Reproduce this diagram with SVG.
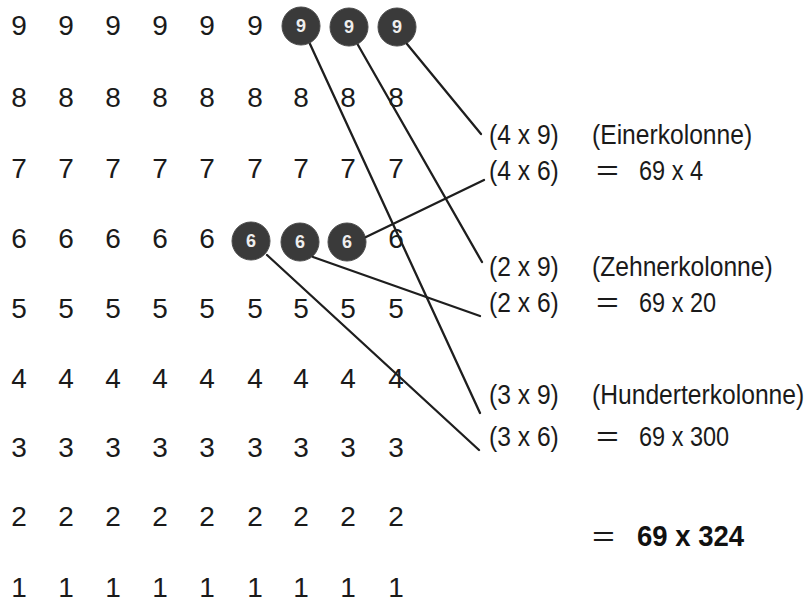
<svg xmlns="http://www.w3.org/2000/svg" width="812" height="604" viewBox="0 0 812 604">
<style>
.g{font-family:"Liberation Sans",Arial,sans-serif;font-size:28px;fill:#1a1a1a;text-anchor:middle}
.c{fill:#3a3a3a;stroke:#4a4a4a;stroke-width:1}
.cd{font-family:"Liberation Sans",Arial,sans-serif;font-size:18px;font-weight:bold;fill:#eee;text-anchor:middle}
.l{font-family:"Liberation Sans",Arial,sans-serif;font-size:28px;fill:#1a1a1a}
.b{font-family:"Liberation Sans",Arial,sans-serif;font-size:29px;font-weight:bold;fill:#111}
.ln{stroke:#1e1e1e;stroke-width:2.3;fill:none;stroke-linecap:round}
</style>
<rect width="812" height="604" fill="#fff"/>
<g id="grid">
<g id="row9"><text class="g" x="19" y="35">9</text><text class="g" x="66" y="35">9</text><text class="g" x="113" y="35">9</text><text class="g" x="160" y="35">9</text><text class="g" x="207" y="35">9</text><text class="g" x="255" y="35">9</text></g>
<g id="row8"><text class="g" x="19" y="107">8</text><text class="g" x="66" y="107">8</text><text class="g" x="113" y="107">8</text><text class="g" x="160" y="107">8</text><text class="g" x="207" y="107">8</text><text class="g" x="255" y="107">8</text><text class="g" x="301" y="107">8</text><text class="g" x="348" y="107">8</text><text class="g" x="396" y="107">8</text></g>
<g id="row7"><text class="g" x="19" y="178">7</text><text class="g" x="66" y="178">7</text><text class="g" x="113" y="178">7</text><text class="g" x="160" y="178">7</text><text class="g" x="207" y="178">7</text><text class="g" x="255" y="178">7</text><text class="g" x="301" y="178">7</text><text class="g" x="348" y="178">7</text><text class="g" x="396" y="178">7</text></g>
<g id="row6"><text class="g" x="19" y="248">6</text><text class="g" x="66" y="248">6</text><text class="g" x="113" y="248">6</text><text class="g" x="160" y="248">6</text><text class="g" x="207" y="248">6</text><text class="g" x="396" y="248">6</text></g>
<g id="row5"><text class="g" x="19" y="318">5</text><text class="g" x="66" y="318">5</text><text class="g" x="113" y="318">5</text><text class="g" x="160" y="318">5</text><text class="g" x="207" y="318">5</text><text class="g" x="255" y="318">5</text><text class="g" x="301" y="318">5</text><text class="g" x="348" y="318">5</text><text class="g" x="396" y="318">5</text></g>
<g id="row4"><text class="g" x="19" y="388">4</text><text class="g" x="66" y="388">4</text><text class="g" x="113" y="388">4</text><text class="g" x="160" y="388">4</text><text class="g" x="207" y="388">4</text><text class="g" x="255" y="388">4</text><text class="g" x="301" y="388">4</text><text class="g" x="348" y="388">4</text><text class="g" x="396" y="388">4</text></g>
<g id="row3"><text class="g" x="19" y="457">3</text><text class="g" x="66" y="457">3</text><text class="g" x="113" y="457">3</text><text class="g" x="160" y="457">3</text><text class="g" x="207" y="457">3</text><text class="g" x="255" y="457">3</text><text class="g" x="301" y="457">3</text><text class="g" x="348" y="457">3</text><text class="g" x="396" y="457">3</text></g>
<g id="row2"><text class="g" x="19" y="526">2</text><text class="g" x="66" y="526">2</text><text class="g" x="113" y="526">2</text><text class="g" x="160" y="526">2</text><text class="g" x="207" y="526">2</text><text class="g" x="255" y="526">2</text><text class="g" x="301" y="526">2</text><text class="g" x="348" y="526">2</text><text class="g" x="396" y="526">2</text></g>
<g id="row1"><text class="g" x="19" y="597">1</text><text class="g" x="66" y="597">1</text><text class="g" x="113" y="597">1</text><text class="g" x="160" y="597">1</text><text class="g" x="207" y="597">1</text><text class="g" x="255" y="597">1</text><text class="g" x="301" y="597">1</text><text class="g" x="348" y="597">1</text><text class="g" x="396" y="597">1</text></g>
</g>
<g id="circle-9a"><circle class="c" cx="301" cy="26" r="19"/><text class="cd" x="301" y="32">9</text></g>
<g id="circle-9b"><circle class="c" cx="349" cy="27" r="19"/><text class="cd" x="349" y="33">9</text></g>
<g id="circle-9c"><circle class="c" cx="397" cy="27" r="19"/><text class="cd" x="397" y="33">9</text></g>
<g id="circle-6a"><circle class="c" cx="251" cy="241" r="19"/><text class="cd" x="251" y="247">6</text></g>
<g id="circle-6b"><circle class="c" cx="300" cy="242" r="19"/><text class="cd" x="300" y="248">6</text></g>
<g id="circle-6c"><circle class="c" cx="347" cy="242" r="19"/><text class="cd" x="347" y="248">6</text></g>
<g id="connectors">
<line class="ln" x1="407" y1="44" x2="481" y2="134"/>
<line class="ln" x1="358" y1="45" x2="482" y2="262"/>
<line class="ln" x1="310" y1="44" x2="480" y2="413"/>
<line class="ln" x1="366" y1="237" x2="484" y2="180"/>
<line class="ln" x1="313" y1="257" x2="480" y2="316"/>
<line class="ln" x1="267" y1="255" x2="479" y2="450"/>
</g>
<g id="labels">
<text class="l" transform="translate(489,144) scale(0.88,1)">(4 x 9)</text>
<text class="l" transform="translate(489,180) scale(0.88,1)">(4 x 6)</text>
<text class="l" transform="translate(489,276) scale(0.88,1)">(2 x 9)</text>
<text class="l" transform="translate(489,312) scale(0.88,1)">(2 x 6)</text>
<text class="l" transform="translate(489,404) scale(0.88,1)">(3 x 9)</text>
<text class="l" transform="translate(489,446) scale(0.88,1)">(3 x 6)</text>
</g>
<g id="results">
<text class="l" transform="translate(592,144) scale(0.88,1)">(Einerkolonne)</text>
<text class="l" transform="translate(596,180) scale(1.4,1)">=</text>
<text class="l" transform="translate(639,180) scale(0.84,1)">69 x 4</text>
<text class="l" transform="translate(592,276) scale(0.88,1)">(Zehnerkolonne)</text>
<text class="l" transform="translate(596,312) scale(1.4,1)">=</text>
<text class="l" transform="translate(639,312) scale(0.84,1)">69 x 20</text>
<text class="l" transform="translate(592,404) scale(0.88,1)">(Hunderterkolonne)</text>
<text class="l" transform="translate(596,446) scale(1.4,1)">=</text>
<text class="l" transform="translate(639,446) scale(0.84,1)">69 x 300</text>
<text class="l" transform="translate(592,546) scale(1.4,1)">=</text>
<text class="b" transform="translate(637,546) scale(0.95,1)">69 x 324</text>
</g>
</svg>
